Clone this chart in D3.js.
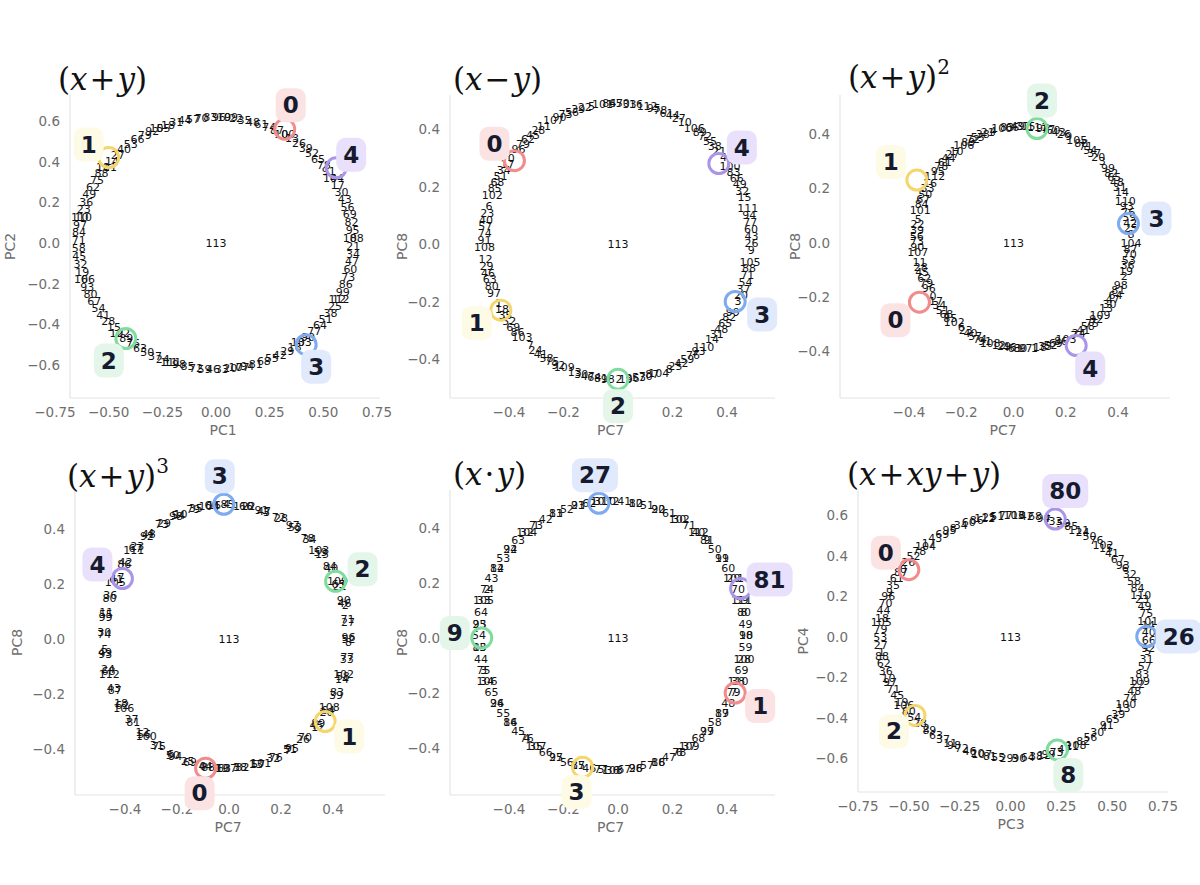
<!DOCTYPE html>
<html><head><meta charset="utf-8">
<script src="https://cdn.jsdelivr.net/npm/d3@7"></script>
<style>body{margin:0;background:#fff}</style>
</head><body><div id="vis"></div>
<script>
// panel titles and axis names
const titles = [["(", "x", "+", "y", ")", ""], ["(", "x", "−", "y", ")", ""], ["(", "x", "+", "y", ")", "2"],
  ["(", "x", "+", "y", ")", "3"], ["(", "x", "·", "y", ")", ""], ["(", "x", "+", "xy", "+", "y", ")"]];
const xNames = ["PC1", "PC7", "PC7", "PC7", "PC7", "PC3"];
const yNames = ["PC2", "PC8", "PC8", "PC8", "PC8", "PC4"];

// highlighted tokens per panel
const hiLabels = [[0, 1, 2, 3, 4], [0, 1, 2, 3, 4], [0, 1, 2, 3, 4], [0, 1, 2, 3, 4], [27, 81, 9, 1, 3], [0, 80, 26, 8, 2]];
const hiX = [[0.32, -0.50, -0.42, 0.42, 0.56], [-0.38, -0.43, 0.00, 0.43, 0.37], [-0.36, -0.37, 0.09, 0.44, 0.24],
  [-0.09, 0.37, 0.41, -0.02, -0.41], [-0.07, 0.45, -0.50, 0.43, -0.13], [-0.50, 0.22, 0.67, 0.23, -0.47]];
const hiY = [[0.56, 0.42, -0.47, -0.50, 0.37], [0.29, -0.23, -0.47, -0.20, 0.28], [-0.22, 0.23, 0.42, 0.07, -0.38],
  [-0.47, -0.30, 0.21, 0.49, 0.22], [0.49, 0.18, 0.00, -0.20, -0.47], [0.33, 0.58, 0.00, -0.56, -0.39]];
const hiColor = [[0, 1, 2, 3, 4], [0, 1, 2, 3, 4], [0, 1, 2, 3, 4], [0, 1, 2, 3, 4], [3, 4, 2, 0, 1], [0, 4, 3, 2, 1]];

// token ring per panel: centre, radii, start angle and angle step (deg)
const ringCx = [0, 0, 0.04, -0.01, -0.02, 0.02];
const ringCy = [0, 0.01, 0.02, 0.01, 0.01, 0];
const ringRx = [0.64, 0.49, 0.41, 0.47, 0.49, 0.66];
const ringRy = [0.62, 0.48, 0.41, 0.48, 0.49, 0.60];
const ringStart = [60, 143, 212, 259, 90, 146];
const ringStep = [82.8, 63.7, 63.7, 57.3, 35.0, 41.4];
const tokens = d3.range(113);

const ringCol = ["#f28b8b", "#f5d66c", "#7fdc9c", "#7eaaf0", "#aa95ea"];
const boxCol = ["#fce3e3", "#fdfbe6", "#e4f6ea", "#e0eafc", "#e9e1fb"];

// layout
const P = [
  {xd: [-0.75, 0.75], xr: [55, 377], yd: [0.6, -0.6], yr: [121, 365], L: 70, R: 380, T: 95, B: 398, xt: [-0.75, -0.5, -0.25, 0, 0.25, 0.5, 0.75], yt: [-0.6, -0.4, -0.2, 0, 0.2, 0.4, 0.6], tx: 58, ty: 90, ylx: 15,
   off: [[6, -24], [-20, -13], [-17, 22], [10, 22], [15, -13]]},
  {xd: [-0.4, 0.4], xr: [509, 727], yd: [0.4, -0.4], yr: [129, 359], L: 450, R: 775, T: 95, B: 398, xt: [-0.4, -0.2, 0, 0.2, 0.4], yt: [-0.4, -0.2, 0, 0.2, 0.4], tx: 453, ty: 90, ylx: 407,
   off: [[-20, -17], [-24, 13], [0, 27], [27, 13], [23, -16]]},
  {xd: [-0.4, 0.4], xr: [909, 1118], yd: [0.4, -0.4], yr: [134, 351], L: 840, R: 1170, T: 95, B: 398, xt: [-0.4, -0.2, 0, 0.2, 0.4], yt: [-0.4, -0.2, 0, 0.2, 0.4], tx: 848, ty: 88, ylx: 800,
   off: [[-24, 18], [-26, -18], [5, -28], [28, -5], [14, 23]]},
  {xd: [-0.4, 0.4], xr: [125, 333], yd: [0.4, -0.4], yr: [529, 749], L: 75, R: 385, T: 490, B: 795, xt: [-0.4, -0.2, 0, 0.2, 0.4], yt: [-0.4, -0.2, 0, 0.2, 0.4], tx: 67, ty: 487, ylx: 22,
   off: [[-6, 25], [24, 15], [27, -12], [-4, -28], [-25, -14]]},
  {xd: [-0.4, 0.4], xr: [509, 727], yd: [0.4, -0.4], yr: [528, 748], L: 450, R: 775, T: 490, B: 795, xt: [-0.4, -0.2, 0, 0.2, 0.4], yt: [-0.4, -0.2, 0, 0.2, 0.4], tx: 453, ty: 485, ylx: 407,
   off: [[-4, -28], [29, -9], [-27, -5], [25, 13], [-6, 25]]},
  {xd: [-0.75, 0.75], xr: [858, 1163], yd: [0.6, -0.6], yr: [515, 758], L: 858, R: 1168, T: 490, B: 792, xt: [-0.75, -0.5, -0.25, 0, 0.25, 0.5, 0.75], yt: [-0.6, -0.4, -0.2, 0, 0.2, 0.4, 0.6], tx: 847, ty: 485, ylx: 808,
   off: [[-23, -17], [10, -28], [32, 0], [11, 25], [-21, 16]]}
];

const svg = d3.select("#vis").append("svg").attr("width", 1200).attr("height", 885)
  .style("font-family", "DejaVu Sans");

const fmt = (v, dec) => d3.format("." + dec + "f")(Math.abs(v) < 1e-9 ? 0 : v).replace("-", "−");

P.forEach((p, i) => {
  const X = d3.scaleLinear().domain(p.xd).range(p.xr);
  const Y = d3.scaleLinear().domain(p.yd).range(p.yr);
  const g = svg.append("g");
  const xdec = Math.abs(p.xd[0]) === 0.75 ? 2 : 1;

  // spines
  g.append("line").attr("x1", p.L).attr("x2", p.L).attr("y1", p.T).attr("y2", p.B).attr("stroke", "#e4e4e4").attr("stroke-width", 1.2);
  g.append("line").attr("x1", p.L).attr("x2", p.R).attr("y1", p.B).attr("y2", p.B).attr("stroke", "#e4e4e4").attr("stroke-width", 1.2);

  g.selectAll(".xt").data(p.xt).enter().append("text")
    .attr("x", d => X(d)).attr("y", p.B + 19).attr("text-anchor", "middle")
    .attr("font-size", 13.5).attr("fill", "#6e6e6e").text(d => fmt(d, xdec));
  g.selectAll(".yt").data(p.yt).enter().append("text")
    .attr("x", p.L - 10).attr("y", d => Y(d) + 5).attr("text-anchor", "end")
    .attr("font-size", 13.5).attr("fill", "#6e6e6e").text(d => fmt(d, 1));
  g.append("text").attr("x", (p.L + p.R) / 2 - 2).attr("y", p.B + 37).attr("text-anchor", "middle")
    .attr("font-size", 14).attr("fill", "#6e6e6e").text(xNames[i]);
  g.append("text").attr("transform", `translate(${p.ylx},${(p.T + p.B) / 2}) rotate(-90)`)
    .attr("text-anchor", "middle").attr("font-size", 14).attr("fill", "#6e6e6e").text(yNames[i]);

  // title
  const t = g.append("text").attr("x", p.tx).attr("y", p.ty).attr("font-size", 31)
    .attr("font-family", "DejaVu Serif").attr("fill", "#111");
  titles[i].forEach((s, k) => {
    if (!s) return;
    const isSup = (k === 5 && i < 5);
    const italic = /[a-z]/.test(s);
    t.append("tspan").text(s)
      .attr("font-style", italic ? "italic" : "normal")
      .attr("font-size", isSup ? 20 : 31)
      .attr("dy", isSup ? -14 : null)
      .attr("dx", (s === "+" || s === "−" || s === "·") ? 2 : (k > 0 && titles[i][k - 1] && /[+−·]/.test(titles[i][k - 1]) ? 2 : 0));
  });

  // ring of token labels
  const ang = n => (ringStart[i] + ringStep[i] * n) * Math.PI / 180;
  g.selectAll(".tok").data(tokens).enter().append("text")
    .attr("x", n => X(ringCx[i] + ringRx[i] * Math.cos(ang(n))))
    .attr("y", n => Y(ringCy[i] + ringRy[i] * Math.sin(ang(n))) + 4)
    .attr("text-anchor", "middle").attr("font-size", 11).attr("fill", "#111")
    .text(n => n);
  g.append("text").attr("x", X(0)).attr("y", Y(0) + 4).attr("text-anchor", "middle")
    .attr("font-size", 11).attr("fill", "#111").text("113");

  // highlights
  hiLabels[i].forEach((lab, k) => {
    const px = X(hiX[i][k]), py = Y(hiY[i][k]);
    const c = hiColor[i][k];
    g.append("circle").attr("cx", px).attr("cy", py).attr("r", 10)
      .attr("fill", "none").attr("stroke", ringCol[c]).attr("stroke-width", 3);
    const lx = px + p.off[k][0], ly = py + p.off[k][1];
    const w = String(lab).length > 1 ? 46 : 30;
    g.append("rect").attr("x", lx - w / 2).attr("y", ly - 17).attr("width", w).attr("height", 34)
      .attr("rx", 9).attr("fill", boxCol[c]);
    g.append("text").attr("x", lx).attr("y", ly + 8).attr("text-anchor", "middle")
      .attr("font-size", 23).attr("font-weight", "bold").attr("fill", "#161a2e").text(lab);
  });
});
</script></body></html>
